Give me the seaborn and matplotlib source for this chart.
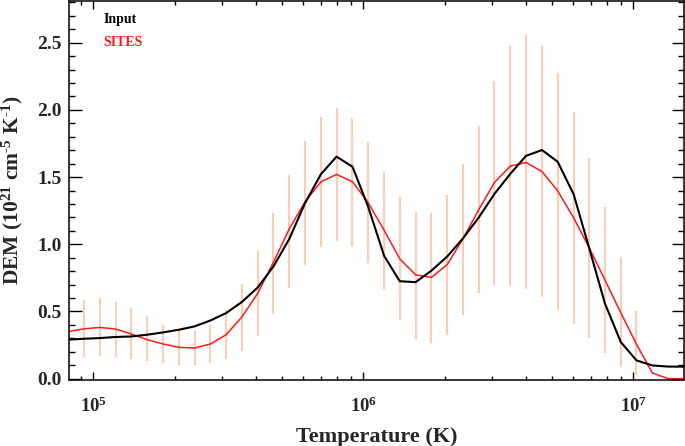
import pandas as pd
import matplotlib
matplotlib.use('Agg')
import matplotlib.pyplot as plt
import matplotlib.ticker as mticker
import seaborn as sns

# log10 of temperature grid (K)
log_t = [4.907, 4.966, 5.024, 5.083, 5.141, 5.200, 5.258, 5.317, 5.375, 5.434,
         5.492, 5.550, 5.609, 5.667, 5.726, 5.784, 5.843, 5.901, 5.960, 6.018,
         6.077, 6.135, 6.194, 6.252, 6.311, 6.369, 6.428, 6.486, 6.545, 6.603,
         6.662, 6.720, 6.779, 6.837, 6.895, 6.954, 7.012, 7.071, 7.129, 7.188]

dem_input = [0.29, 0.297, 0.302, 0.31, 0.314, 0.327, 0.344, 0.364, 0.389, 0.433,
             0.488, 0.57, 0.678, 0.834, 1.04, 1.305, 1.521, 1.652, 1.577, 1.28,
             0.915, 0.725, 0.718, 0.803, 0.909, 1.043, 1.20, 1.375, 1.525, 1.658,
             1.701, 1.614, 1.373, 0.97, 0.56, 0.272, 0.136, 0.098, 0.09, 0.089]

dem_sites = [0.35, 0.371, 0.381, 0.369, 0.332, 0.290, 0.258, 0.233, 0.228, 0.258,
             0.327, 0.458, 0.635, 0.865, 1.115, 1.315, 1.464, 1.52, 1.465, 1.31,
             1.105, 0.892, 0.772, 0.753, 0.849, 1.04, 1.258, 1.46, 1.582, 1.608,
             1.541, 1.398, 1.197, 0.974, 0.734, 0.49, 0.256, 0.042, 0.0, 0.0]

# error bars of SITES (grid points 1..36)
err_lo = [0.161, 0.166, 0.161, 0.149, 0.134, 0.117, 0.104, 0.102, 0.117, 0.149,
          0.208, 0.314, 0.481, 0.671, 0.849, 0.978, 1.027, 0.990, 0.860, 0.656,
          0.438, 0.295, 0.265, 0.327, 0.475, 0.637, 0.698, 0.686, 0.666, 0.611,
          0.513, 0.406, 0.302, 0.191, 0.089, 0.030]
err_hi = [0.587, 0.597, 0.574, 0.525, 0.463, 0.401, 0.364, 0.351, 0.399, 0.513,
          0.706, 0.951, 1.231, 1.513, 1.770, 1.949, 2.011, 1.937, 1.763, 1.540,
          1.354, 1.241, 1.235, 1.367, 1.595, 1.880, 2.214, 2.476, 2.556, 2.474,
          2.276, 1.986, 1.640, 1.275, 0.906, 0.500]

temp = [10 ** v for v in log_t]
df = pd.DataFrame({'T': temp, 'Input': dem_input, 'SITES': dem_sites})
bars = pd.DataFrame({'T': temp[1:37], 'lo': err_lo, 'hi': err_hi})

sns.set_style('ticks')
plt.rcParams['font.family'] = ['Liberation Serif', 'DejaVu Serif']
plt.rcParams['font.weight'] = 'bold'
plt.rcParams['mathtext.fontset'] = 'custom'
plt.rcParams['mathtext.rm'] = 'Liberation Serif:bold'
plt.rcParams['mathtext.bf'] = 'Liberation Serif:bold'
plt.rcParams['mathtext.it'] = 'Liberation Serif:bold'
plt.rcParams['mathtext.default'] = 'bf'

fig = plt.figure(figsize=(6.85, 4.46), dpi=100)
ax = fig.add_axes([69 / 685, 66 / 446, 615 / 685, 379 / 446])

ax.vlines(bars['T'], bars['lo'], bars['hi'], color='#ffcbb5', lw=1.5, zorder=1)
sns.lineplot(data=df, x='T', y='Input', color='black', lw=1.5, ax=ax, zorder=3)
sns.lineplot(data=df, x='T', y='SITES', color='#ff1a1a', lw=1.1, ax=ax, zorder=2)

ax.set_xscale('log')
ax.set_xlim(10 ** 4.91, 10 ** 7.188)
ax.set_ylim(-0.01, 2.81)

ax.yaxis.set_major_locator(mticker.MultipleLocator(0.5))
ax.yaxis.set_minor_locator(mticker.MultipleLocator(0.1))
ax.yaxis.set_major_formatter(mticker.FormatStrFormatter('%.1f'))
ax.xaxis.set_minor_formatter(mticker.NullFormatter())

ax.tick_params(which='both', direction='in', top=True, right=True, width=1.0, color='black')
ax.tick_params(axis='y', which='major', length=9, labelsize=14, pad=5)
ax.tick_params(axis='y', which='minor', length=4.5)
ax.tick_params(axis='x', which='major', length=5.5, labelsize=13.5, pad=12)
ax.tick_params(axis='x', which='minor', length=3)
for s in ax.spines.values():
    s.set_linewidth(1.1)
    s.set_color('black')

ax.set_xlabel('Temperature (K)', fontsize=16, fontweight='bold', labelpad=8)
ax.set_ylabel(r'DEM (10$^{21}$ cm$^{\text{-5}}$ K$^{\text{-1}}$)', fontsize=15.5,
              fontweight='bold', labelpad=9)

ax.text(0.0558, 0.951, 'Input', transform=ax.transAxes, color='black',
        fontsize=10, fontweight='bold', va='center')
ax.text(0.0558, 0.891, 'SITES', transform=ax.transAxes, color='#ff1a1a',
        fontsize=10, fontweight='bold', va='center')

fig.savefig('out.png', dpi=100)
